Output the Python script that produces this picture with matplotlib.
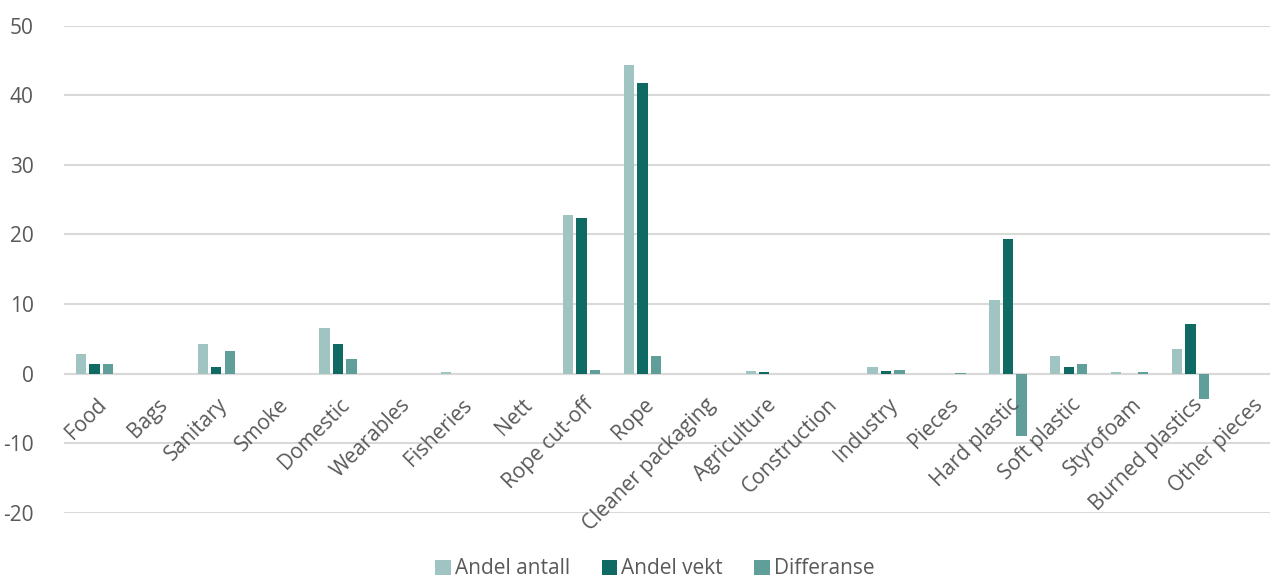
import matplotlib
matplotlib.use("Agg")
import matplotlib.pyplot as plt
import numpy as np

categories = ["Food", "Bags", "Sanitary", "Smoke", "Domestic", "Wearables",
              "Fisheries", "Nett", "Rope cut-off", "Rope", "Cleaner packaging",
              "Agriculture", "Construction", "Industry", "Pieces", "Hard plastic",
              "Soft plastic", "Styrofoam", "Burned plastics", "Other pieces"]
andel_antall = [2.8, 0, 4.3, 0, 6.5, 0, 0.2, 0, 22.8, 44.4, 0,
                0.3, 0, 0.9, 0, 10.6, 2.5, 0.15, 3.5, 0]
andel_vekt = [1.4, 0, 1.0, 0, 4.2, 0, 0, 0, 22.3, 41.8, 0,
              0.2, 0, 0.4, 0, 19.4, 1.0, 0, 7.1, 0]
differanse = [1.3, 0, 3.2, 0, 2.1, 0, 0, 0, 0.5, 2.5, 0,
              0, 0, 0.5, 0.1, -9.0, 1.35, 0.15, -3.7, 0]

series = [("Andel antall", andel_antall, "#a0c4c2"),
          ("Andel vekt", andel_vekt, "#0e6a62"),
          ("Differanse", differanse, "#5f9e99")]

plt.rcParams["font.family"] = ["Open Sans", "DejaVu Sans"]
plt.rcParams["axes.unicode_minus"] = False
text_color = "#595959"
grid_color = "#d9d9d9"

fig = plt.figure(figsize=(12.7, 5.78), dpi=100)
ax = fig.add_axes([0.0504, 0.113, 0.959, 0.8426])

x = np.arange(len(categories))
width = 0.17
step = 0.222
for k, (name, vals, col) in enumerate(series):
    ax.bar(x + (k - 1) * step, vals, width, color=col, label=name, zorder=3)

ax.set_xlim(-0.5, len(categories) - 0.5)
ax.set_ylim(-20, 50)
ax.set_yticks(range(-20, 51, 10))
ax.yaxis.grid(True, color=grid_color, linewidth=1.5, zorder=0)
ax.axhline(0, color=grid_color, linewidth=1.5, zorder=2)
for s in ax.spines.values():
    s.set_visible(False)
ax.tick_params(axis="y", length=0, pad=22, labelsize=15, labelcolor=text_color)
ax.set_xticks([])

# category labels hang under the zero line
for i, name in enumerate(categories):
    ax.text(i + 0.02, -3.0, name, rotation=45, rotation_mode="anchor",
            ha="right", va="top", fontsize=15, color=text_color)

fig.legend(loc="center", bbox_to_anchor=(655 / 1270, 1 - 569 / 578), ncol=3,
           frameon=False, fontsize=15, handlelength=0.75, handleheight=0.75,
           handletextpad=0.2, columnspacing=1.5, labelcolor=text_color)

fig.savefig("out.png", dpi=100)
